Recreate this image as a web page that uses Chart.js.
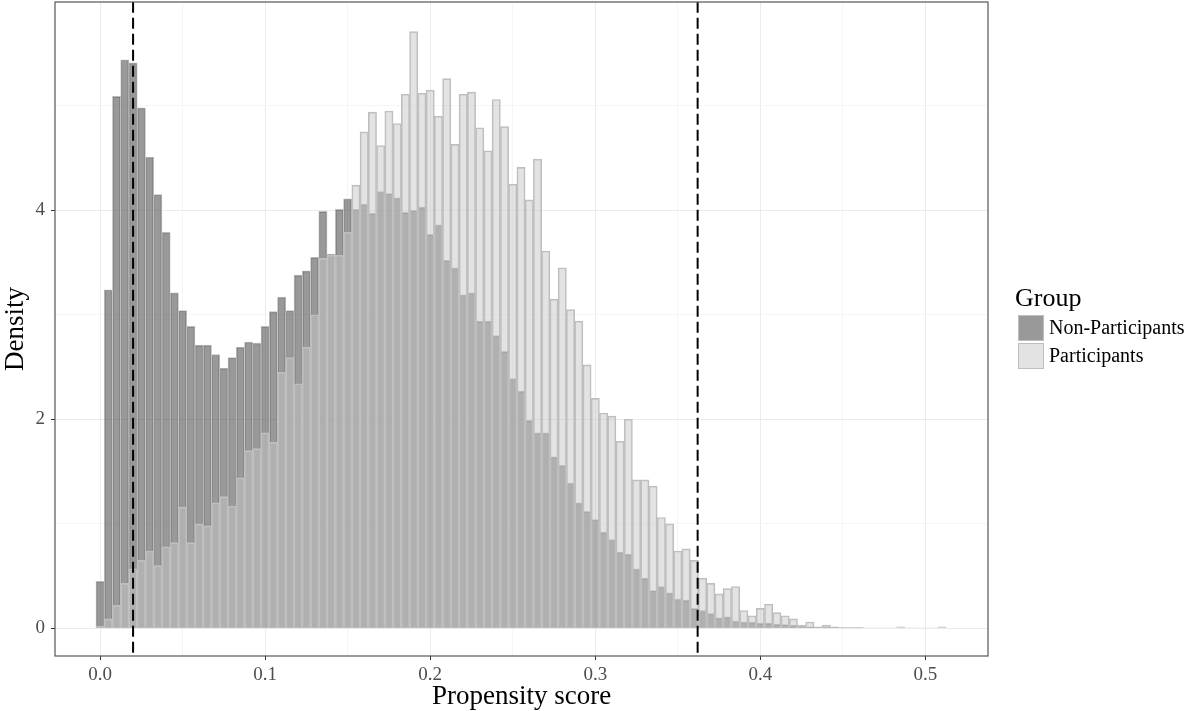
<!DOCTYPE html>
<html>
<head>
<meta charset="utf-8">
<title>Propensity score</title>
<script src="https://cdn.jsdelivr.net/npm/chart.js@4/dist/chart.umd.min.js"></script>
<style>
  html, body { margin: 0; padding: 0; background: #fff; }
</style>
</head>
<body>
<canvas id="chart" width="1191" height="711"></canvas>
<script>
// histogram bin centres (binwidth 0.005)
const binCenters = [
  0, 0.005, 0.01, 0.015, 0.02, 0.025, 0.03, 0.035, 0.04, 0.045,
  0.05, 0.055, 0.06, 0.065, 0.07, 0.075, 0.08, 0.085, 0.09, 0.095,
  0.1, 0.105, 0.11, 0.115, 0.12, 0.125, 0.13, 0.135, 0.14, 0.145,
  0.15, 0.155, 0.16, 0.165, 0.17, 0.175, 0.18, 0.185, 0.19, 0.195,
  0.2, 0.205, 0.21, 0.215, 0.22, 0.225, 0.23, 0.235, 0.24, 0.245,
  0.25, 0.255, 0.26, 0.265, 0.27, 0.275, 0.28, 0.285, 0.29, 0.295,
  0.3, 0.305, 0.31, 0.315, 0.32, 0.325, 0.33, 0.335, 0.34, 0.345,
  0.35, 0.355, 0.36, 0.365, 0.37, 0.375, 0.38, 0.385, 0.39, 0.395,
  0.4, 0.405, 0.41, 0.415, 0.42, 0.425, 0.43, 0.435, 0.44, 0.445,
  0.45, 0.455, 0.46, 0.465, 0.47, 0.475, 0.48, 0.485, 0.49, 0.495,
  0.5, 0.505, 0.51
];

const nonParticipants = [
  0.45, 3.24, 5.09, 5.44, 5.41, 4.98, 4.51, 4.15, 3.79, 3.21,
  3.04, 2.89, 2.71, 2.71, 2.62, 2.49, 2.59, 2.69, 2.74, 2.73,
  2.89, 3.03, 3.17, 3.04, 3.38, 3.42, 3.55, 3.99, 3.58, 4.01,
  4.11, 4.01, 4.06, 3.97, 4.18, 4.16, 4.12, 3.98, 4.00, 4.03,
  3.77, 3.86, 3.52, 3.45, 3.19, 3.21, 2.94, 2.94, 2.80, 2.65,
  2.39, 2.27, 1.99, 1.87, 1.87, 1.64, 1.56, 1.39, 1.20, 1.12,
  1.04, 0.92, 0.85, 0.73, 0.71, 0.57, 0.48, 0.36, 0.40, 0.34,
  0.28, 0.27, 0.19, 0.17, 0.14, 0.10, 0.11, 0.07, 0.06, 0.06,
  0.05, 0.05, 0.04, 0.035, 0.03, 0.02, 0.015, 0.01, 0.01, 0.01,
  0.005, 0.005, 0.005, 0, 0, 0, 0, 0.005, 0, 0,
  0, 0, 0.005
];

const participants = [
  0.02, 0.09, 0.22, 0.43, 0.57, 0.65, 0.74, 0.60, 0.78, 0.82,
  1.16, 0.82, 1.00, 0.98, 1.20, 1.26, 1.17, 1.44, 1.70, 1.72,
  1.87, 1.78, 2.45, 2.59, 2.34, 2.69, 3.00, 3.54, 3.57, 3.57,
  3.79, 4.24, 4.75, 4.94, 4.62, 4.95, 4.83, 5.11, 5.71, 5.12,
  5.15, 4.90, 5.26, 4.63, 5.11, 5.13, 4.79, 4.57, 5.06, 4.80,
  4.25, 4.41, 4.10, 4.49, 3.61, 3.15, 3.45, 3.05, 2.94, 2.52,
  2.20, 2.06, 2.03, 1.79, 2.00, 1.42, 1.42, 1.36, 1.06, 1.00,
  0.74, 0.76, 0.65, 0.48, 0.43, 0.33, 0.38, 0.40, 0.17, 0.12,
  0.19, 0.23, 0.15, 0.12, 0.09, 0.03, 0.06, 0.015, 0.03, 0.015,
  0.01, 0.01, 0.01, 0.005, 0.005, 0.005, 0.005, 0.015, 0.005, 0.005,
  0.005, 0.005, 0.015
];

// dashed cut-off lines
const cutoffs = [0.02, 0.362];

const xTicks = [0, 0.05, 0.1, 0.15, 0.2, 0.25, 0.3, 0.35, 0.4, 0.45, 0.5];
const yTicks = [0, 1, 2, 3, 4, 5];
const groupNames = ['Non-Participants', 'Participants'];

const serif = '"Liberation Serif", "Times New Roman", serif';
Chart.defaults.font.family = serif;

const edge = '#bebebe';
const fills = ['rgba(51,51,51,0.5)', 'rgba(199,199,199,0.5)'];

// panel border drawn on top of everything, like theme_bw
const panelBorder = {
  id: 'panelBorder',
  afterDatasetsDraw(chart) {
    const { ctx, chartArea: a } = chart;
    ctx.save();
    ctx.strokeStyle = '#555';
    ctx.lineWidth = 1.2;
    ctx.strokeRect(a.left, a.top, a.right - a.left, a.bottom - a.top);
    ctx.restore();
  }
};

// ggplot-style legend to the right of the panel
const groupLegend = {
  id: 'groupLegend',
  afterDraw(chart) {
    const { ctx, chartArea: a } = chart;
    const mid = (a.top + a.bottom) / 2;
    const x = a.right + 30;
    const size = 26;
    ctx.save();
    ctx.fillStyle = '#000';
    ctx.font = '26px ' + serif;
    ctx.textBaseline = 'alphabetic';
    ctx.fillText('Group', x - 3, mid - 23);
    ctx.font = '20px ' + serif;
    ctx.textBaseline = 'middle';
    groupNames.forEach((name, i) => {
      const top = mid - 14 + i * 28;
      ctx.fillStyle = '#fff';
      ctx.fillRect(x, top, size, size);
      ctx.fillStyle = fills[i];
      ctx.fillRect(x, top, size, size);
      ctx.strokeStyle = edge;
      ctx.lineWidth = 1;
      ctx.strokeRect(x + 0.5, top + 0.5, size - 1, size - 1);
      ctx.fillStyle = '#000';
      ctx.fillText(name, x + size + 5, top + size / 2 + 1);
    });
    ctx.restore();
  }
};

const toPoints = vals => binCenters.map((x, i) => ({ x: x, y: vals[i] }));

const ctx = document.getElementById('chart').getContext('2d');
new Chart(ctx, {
  type: 'bar',
  data: {
    datasets: [
      ...cutoffs.map(c => ({
        type: 'line',
        data: [{ x: c, y: -1 }, { x: c, y: 7 }],
        borderColor: '#000',
        borderWidth: 2,
        borderDash: [11, 5],
        pointRadius: 0,
        order: 0
      })),
      {
        label: groupNames[1],
        data: toPoints(participants),
        backgroundColor: fills[1],
        borderColor: edge,
        borderWidth: 1,
        order: 1
      },
      {
        label: groupNames[0],
        data: toPoints(nonParticipants),
        backgroundColor: fills[0],
        borderColor: edge,
        borderWidth: 1,
        order: 2
      }
    ]
  },
  options: {
    responsive: false,
    animation: false,
    datasets: {
      bar: { grouped: false, barPercentage: 1, categoryPercentage: 1 }
    },
    layout: { padding: { top: 2, right: 203, left: 0, bottom: 0 } },
    plugins: {
      legend: { display: false },
      tooltip: { enabled: false }
    },
    scales: {
      x: {
        type: 'linear',
        offset: false,
        min: -0.0273,
        max: 0.5379,
        afterBuildTicks: s => { s.ticks = xTicks.map(v => ({ value: v })); },
        afterFit: s => { s.height = 55; s.paddingLeft = 0; s.paddingRight = 0; },
        ticks: {
          autoSkip: false,
          maxRotation: 0,
          padding: 4,
          color: '#4d4d4d',
          font: { size: 19 },
          callback: (v, i) => (i % 2 === 0 ? v.toFixed(1) : '')
        },
        grid: {
          offset: false,
          color: c => (c.index % 2 === 0 ? '#ebebeb' : '#f5f5f5'),
          tickColor: c => (c.index % 2 === 0 ? '#333' : 'rgba(0,0,0,0)'),
          tickLength: 4
        },
        border: { display: false },
        title: {
          display: true,
          text: 'Propensity score',
          color: '#000',
          font: { size: 27 },
          padding: { top: 0, bottom: -2 }
        }
      },
      y: {
        min: -0.265,
        max: 5.993,
        afterBuildTicks: s => { s.ticks = yTicks.map(v => ({ value: v })); },
        afterFit: s => { s.width = 55; s.paddingTop = 0; s.paddingBottom = 0; },
        ticks: {
          autoSkip: false,
          padding: 6,
          color: '#4d4d4d',
          font: { size: 19 },
          callback: v => (v % 2 === 0 ? String(v) : '')
        },
        grid: {
          color: c => (c.tick.value % 2 === 0 ? '#ebebeb' : '#f5f5f5'),
          tickColor: c => (c.tick.value % 2 === 0 ? '#333' : 'rgba(0,0,0,0)'),
          tickLength: 4
        },
        border: { display: false },
        title: {
          display: true,
          text: 'Density',
          color: '#000',
          font: { size: 27 },
          padding: 0
        }
      }
    }
  },
  plugins: [panelBorder, groupLegend]
});
</script>
</body>
</html>
